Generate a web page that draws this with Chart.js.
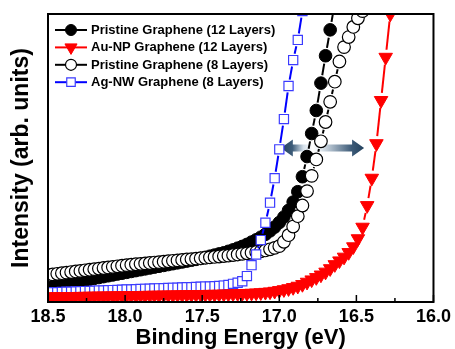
<!DOCTYPE html>
<html lang="en">
<head>
<meta charset="UTF-8">
<title>Binding Energy</title>
<script src="https://cdn.jsdelivr.net/npm/chart.js@4.4.1/dist/chart.umd.min.js"></script>
<style>
  *{margin:0;padding:0;box-sizing:border-box;}
  body{background:#fff;}
  #wrap{width:455px;height:349px;}
</style>
</head>
<body>
<div id="wrap"><canvas id="mycanvas" width="455" height="349"></canvas></div>
<script>
// binding energy (eV), shared by all four curves
const energy = [18.50,18.47,18.44,18.41,18.38,18.35,18.32,18.29,18.26,18.23,
  18.20,18.17,18.14,18.11,18.08,18.05,18.02,17.99,17.96,17.93,
  17.90,17.87,17.84,17.81,17.78,17.75,17.72,17.69,17.66,17.63,
  17.60,17.57,17.54,17.51,17.48,17.45,17.42,17.39,17.36,17.33,
  17.30,17.27,17.24,17.21,17.18,17.15,17.12,17.09,17.06,17.03,
  17.00,16.97,16.94,16.91,16.88,16.85,16.82,16.79,16.76,16.73,
  16.70,16.67,16.64,16.61,16.58,16.55,16.52,16.49,16.46,16.43,
  16.40,16.37,16.34,16.31,16.28,16.25];

// intensity (arb. units)
const pristine12 = [5.2,5.5,5.8,6.1,6.4,6.7,7.0,7.3,7.6,7.9,
  8.2,8.5,8.8,9.1,9.4,9.7,10.0,10.3,10.6,10.9,
  11.2,11.5,11.8,12.1,12.4,12.7,13.0,13.3,13.6,13.9,
  14.2,14.5,14.8,15.1,15.5,15.9,16.3,16.7,17.1,17.6,
  18.1,18.7,19.3,20.0,20.8,21.6,22.5,23.5,24.7,26.0,
  27.6,29.5,31.8,34.7,38.3,43.5,50.5,58.5,66.5,76.0,
  85.5,94.5,104];
const auNP12 = [1.80,1.83,1.85,1.88,1.90,1.93,1.95,1.98,2.00,2.03,
  2.05,2.08,2.10,2.13,2.15,2.18,2.20,2.23,2.25,2.28,
  2.30,2.33,2.35,2.38,2.40,2.43,2.45,2.48,2.50,2.53,
  2.55,2.58,2.60,2.63,2.65,2.68,2.70,2.73,2.76,2.80,
  2.85,2.90,2.95,3.00,3.07,3.15,3.25,3.38,3.53,3.75,
  4.00,4.30,4.65,5.05,5.50,6.10,6.90,7.70,8.50,9.40,
  10.4,11.6,13.0,14.3,15.6,17.2,19.2,22.0,26.0,33.5,
  43.0,55.0,70.0,85.0,100,115];
const pristine8 = [9.4,9.6,9.8,10.0,10.2,10.4,10.6,10.8,11.0,11.2,
  11.4,11.6,11.8,12.0,12.2,12.4,12.6,12.8,12.95,13.1,
  13.25,13.4,13.55,13.7,13.85,14.0,14.15,14.3,14.45,14.6,
  14.75,14.9,15.05,15.2,15.35,15.5,15.65,15.8,15.95,16.1,
  16.3,16.5,16.7,16.9,17.1,17.35,17.6,17.9,18.3,18.8,
  19.4,20.9,23.2,26.2,29.8,33.5,38.5,43.8,49.5,55.8,
  62.5,69.5,76.5,83.5,88.5,92.0,95.5,98.5,101];
const agNW8 = [3.30,3.36,3.42,3.48,3.54,3.60,3.66,3.72,3.78,3.84,
  3.90,3.96,4.02,4.08,4.14,4.20,4.26,4.32,4.38,4.44,
  4.50,4.56,4.62,4.68,4.74,4.80,4.86,4.92,4.98,5.04,
  5.10,5.16,5.22,5.28,5.34,5.40,5.48,5.58,5.70,5.90,
  6.30,6.70,7.20,9.00,12.8,16.5,21.5,27.5,34.5,43.0,
  53.0,63.5,75.0,84.0,91.0,101,110];

const seriesNames = ["Pristine Graphene (12 Layers)","Au-NP Graphene (12 Layers)",
  "Pristine Graphene (8 Layers)","Ag-NW Graphene (8 Layers)"];
const xTicks = [18.5,18.0,17.5,17.0,16.5,16.0];

// double arrow (data units)
const arrowFrom = 16.99, arrowTo = 16.45, arrowAt = 53.5;

const FONT = '"Liberation Sans", Arial, sans-serif';

function pts(vals){
  return vals.map(function(v,i){ return {x:energy[i], y:v}; });
}

// origin style "gap to symbol": line pieces only between markers
function gapLine(gap){
  return function(c){
    var dx=c.p1.x-c.p0.x, dy=c.p1.y-c.p0.y;
    var len=Math.sqrt(dx*dx+dy*dy);
    if(len<=2*gap) return [0,len+100];
    return [0,gap,len-2*gap,len+100];
  };
}

function marker(ctx, style, x, y, r, fill, stroke, bw){
  ctx.save();
  ctx.setLineDash([]);
  ctx.fillStyle=fill; ctx.strokeStyle=stroke; ctx.lineWidth=bw;
  ctx.beginPath();
  if(style==='circle'){
    ctx.arc(x,y,r,0,Math.PI*2);
  }else if(style==='triangleDown'){
    var s=r*Math.sin(Math.PI/3);
    ctx.moveTo(x-s,y-r/2); ctx.lineTo(x+s,y-r/2); ctx.lineTo(x,y+r);
    ctx.closePath();
  }else{
    var h=r*Math.SQRT1_2;
    ctx.rect(x-h,y-h,2*h,2*h);
  }
  ctx.fill(); ctx.stroke();
  ctx.restore();
}

const arrowPlugin = {
  id:'arrow',
  beforeDatasetsDraw(chart){
    var ctx=chart.ctx, xs=chart.scales.x, ys=chart.scales.y;
    var xa=xs.getPixelForValue(arrowFrom), xb=xs.getPixelForValue(arrowTo), y=ys.getPixelForValue(arrowAt);
    var hl=12, hh=8.5, sh=3.5;
    var g=ctx.createLinearGradient(xa,0,xb,0);
    g.addColorStop(0,'#22405c');
    g.addColorStop(0.14,'#3e5d7a');
    g.addColorStop(0.27,'#d5e0ea');
    g.addColorStop(0.38,'#ffffff');
    g.addColorStop(0.47,'#e6edf3');
    g.addColorStop(0.85,'#3d5b78');
    g.addColorStop(1,'#22405c');
    ctx.save();
    ctx.fillStyle=g;
    ctx.beginPath();
    ctx.moveTo(xa,y);
    ctx.lineTo(xa+hl,y-hh); ctx.lineTo(xa+hl,y-sh);
    ctx.lineTo(xb-hl,y-sh); ctx.lineTo(xb-hl,y-hh);
    ctx.lineTo(xb,y);
    ctx.lineTo(xb-hl,y+hh); ctx.lineTo(xb-hl,y+sh);
    ctx.lineTo(xa+hl,y+sh); ctx.lineTo(xa+hl,y+hh);
    ctx.closePath();
    ctx.fill();
    ctx.restore();
  }
};

const framePlugin = {
  id:'frame',
  afterDatasetsDraw(chart){
    var ctx=chart.ctx, a=chart.chartArea, xs=chart.scales.x;
    ctx.save();
    ctx.strokeStyle='#000';
    ctx.lineWidth=2;
    ctx.setLineDash([]);
    ctx.strokeRect(a.left,a.top,a.right-a.left,a.bottom-a.top);
    // inward ticks on the bottom axis, minor ones half way
    var px=xs.ticks.map(function(t){ return xs.getPixelForValue(t.value); });
    ctx.lineWidth=1.5;
    ctx.beginPath();
    px.forEach(function(p,i){
      ctx.moveTo(p,a.bottom); ctx.lineTo(p,a.bottom-7);
      if(i>0){
        var m=(p+px[i-1])/2;
        ctx.moveTo(m,a.bottom); ctx.lineTo(m,a.bottom-4);
      }
    });
    ctx.stroke();
    ctx.restore();
  }
};

const legendPlugin = {
  id:'boxLegend',
  afterDraw(chart){
    var ctx=chart.ctx, a=chart.chartArea;
    ctx.save();
    ctx.font='bold 13px '+FONT;
    ctx.textBaseline='middle';
    chart.data.datasets.forEach(function(ds,i){
      var y=a.top+16+i*17.4, x0=a.left+7, x1=a.left+39;
      ctx.strokeStyle=ds.borderColor; ctx.lineWidth=2; ctx.setLineDash([]);
      ctx.beginPath(); ctx.moveTo(x0,y); ctx.lineTo(x1,y); ctx.stroke();
      marker(ctx, ds.legendStyle, (x0+x1)/2, y, ds.legendRadius, ds.pointBackgroundColor, ds.pointBorderColor, ds.pointBorderWidth);
      ctx.fillStyle='#000';
      ctx.fillText(seriesNames[i], a.left+43, y+0.5);
    });
    ctx.restore();
  }
};

new Chart(document.getElementById('mycanvas'),{
  type:'line',
  plugins:[arrowPlugin, framePlugin, legendPlugin],
  data:{
    datasets:[{
      label:seriesNames[0], data:pts(pristine12), order:4,
      borderColor:'#000', backgroundColor:'#000', borderWidth:2,
      pointStyle:'circle', legendStyle:'circle', legendRadius:5.5, pointRadius:6.3,
      pointBackgroundColor:'#000', pointBorderColor:'#000', pointBorderWidth:1,
      segment:{borderDash:gapLine(8)}
    },{
      label:seriesNames[1], data:pts(auNP12), order:1,
      borderColor:'#ff0000', backgroundColor:'#ff0000', borderWidth:2,
      pointStyle:'triangle', pointRotation:180, legendStyle:'triangleDown', legendRadius:7, pointRadius:7.8,
      pointBackgroundColor:'#ff0000', pointBorderColor:'#ff0000', pointBorderWidth:1,
      segment:{borderDash:gapLine(7.5)}
    },{
      label:seriesNames[2], data:pts(pristine8), order:3,
      borderColor:'#000', backgroundColor:'#fff', borderWidth:2,
      pointStyle:'circle', legendStyle:'circle', legendRadius:5.5, pointRadius:6.3,
      pointBackgroundColor:'#fff', pointBorderColor:'#000', pointBorderWidth:1.2,
      segment:{borderDash:gapLine(8)}
    },{
      label:seriesNames[3], data:pts(agNW8), order:2,
      borderColor:'#0000ff', backgroundColor:'#fff', borderWidth:2,
      pointStyle:'rect', legendStyle:'rect', legendRadius:6, pointRadius:6.5,
      pointBackgroundColor:'#fff', pointBorderColor:'#3b3bff', pointBorderWidth:1.2,
      segment:{borderDash:gapLine(6.5)}
    }]
  },
  options:{
    responsive:false,
    devicePixelRatio:1,
    animation:false,
    events:[],
    layout:{padding:{top:14,right:18,left:0,bottom:0}},
    plugins:{legend:{display:false},tooltip:{enabled:false}},
    elements:{line:{tension:0,fill:false}},
    scales:{
      x:{
        type:'linear', position:'bottom', reverse:true, min:16, max:18.5,
        afterBuildTicks:function(s){ s.ticks=xTicks.map(function(v){ return {value:v}; }); },
        afterFit:function(s){ s.height=47; },
        grid:{display:false, drawTicks:false},
        border:{display:false},
        ticks:{color:'#000', padding:4, maxRotation:0, autoSkip:false,
          font:{family:FONT, size:18, weight:'bold'},
          callback:function(v){ return Number(v).toFixed(1); }},
        title:{display:true, text:'Binding Energy (eV)', color:'#000',
          font:{family:FONT, size:22, weight:'bold', lineHeight:1}, padding:{top:0,bottom:0}}
      },
      y:{
        min:0, max:100,
        afterFit:function(s){ s.width=48; },
        grid:{display:false, drawTicks:false},
        border:{display:false},
        ticks:{display:false},
        title:{display:true, text:'Intensity (arb. units)', color:'#000',
          font:{family:FONT, size:23, weight:'bold', lineHeight:1}, padding:{top:10,bottom:0}}
      }
    }
  }
});
</script>
</body>
</html>
